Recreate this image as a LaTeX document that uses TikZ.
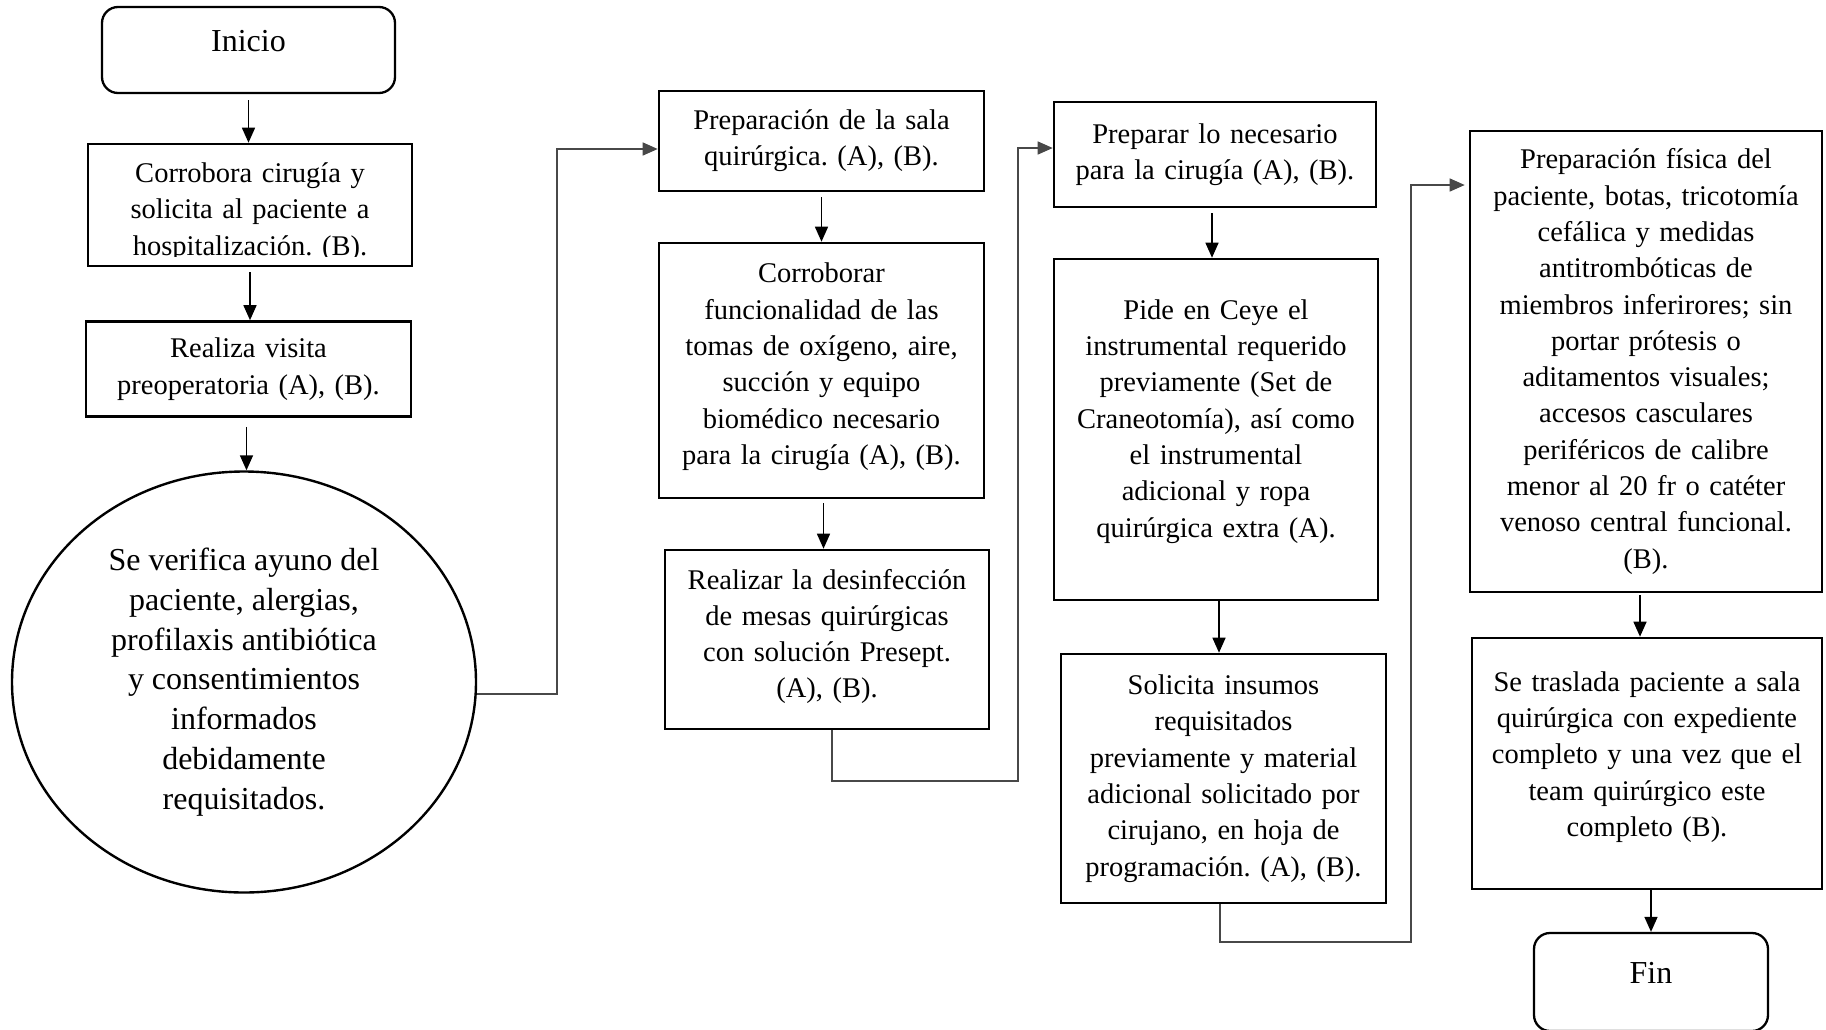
\documentclass[tikz,border=0pt]{standalone}
\usepackage{fontspec}
\setmainfont{Liberation Serif}
\usetikzlibrary{arrows.meta,shapes.geometric}

\definecolor{conngray}{RGB}{72,72,72}

\tikzset{
  boxtext/.style={font=\frenchspacing\fontsize{28.5}{36.3}\selectfont, align=center},
  stepbox/.style={draw=black, line width=2.6pt, rectangle, inner sep=0pt, boxtext},
  termbox/.style={draw=black, line width=2.3pt, rectangle, rounded corners=16pt, inner sep=0pt,
                  font=\fontsize{32}{38}\selectfont},
  bigoval/.style={draw=black, line width=2.4pt, ellipse, inner sep=0pt,
                  font=\fontsize{32}{39.8}\selectfont, align=center},
  arr/.style={draw=black, line width=1.5pt, -{Triangle[length=15pt,width=13pt]}},
  conn/.style={draw=conngray, line width=1.4pt},
  connarr/.style={conn, -{Triangle[length=15pt,width=13pt]}},
}

\begin{document}
\begin{tikzpicture}[x=1pt, y=-1pt]
\useasboundingbox (0,0) rectangle (1826,1029);

% ---- first column ----
\node[termbox, minimum width=293pt, minimum height=86pt, text depth=18pt] (inicio) at (248.5,50) {Inicio};

\node[stepbox, minimum width=324pt, minimum height=122pt] (corr) at (250,205) {};
\begin{scope}
  \clip (88,146) rectangle (412,256);
  \node[boxtext, text width=320pt, inner sep=0pt] (corrtext) at (250,212)
    {Corrobora cirugía y\\solicita al paciente a\\hospitalización. (B).};
\end{scope}

\node[stepbox, minimum width=325pt, minimum height=95pt, text width=315pt] (visita) at (248.5,369)
  {Realiza visita\\preoperatoria (A), (B).};

\node[bigoval, minimum width=464pt, minimum height=421pt] (ell) at (244,682)
  {Se verifica ayuno del\\paciente, alergias,\\profilaxis antibiótica\\y consentimientos\\informados\\debidamente\\requisitados.};

% ---- second column ----
\node[stepbox, minimum width=325pt, minimum height=100pt, text width=315pt] (psala) at (821.5,141)
  {Preparación de la sala\\quirúrgica. (A), (B).};
% (text depth below the first baseline is enlarged a little to lift the text)
\node[stepbox, minimum width=325pt, minimum height=255pt, text width=315pt, text depth=195pt] (func) at (821.5,370.5)
  {Corroborar\\funcionalidad de las\\tomas de oxígeno, aire,\\succión y equipo\\biomédico necesario\\para la cirugía (A), (B).};
\node[stepbox, minimum width=324pt, minimum height=179pt, text width=314pt, text depth=121pt] (desinf) at (827,639.5)
  {Realizar la desinfección\\de mesas quirúrgicas\\con solución Presept.\\(A), (B).};

% ---- third column ----
\node[stepbox, minimum width=322pt, minimum height=105pt, text width=312pt] (pnec) at (1215,154.5)
  {Preparar lo necesario\\para la cirugía (A), (B).};
\node[stepbox, minimum width=324pt, minimum height=341pt, text width=314pt, text depth=240pt] (ceye) at (1216,429.5)
  {Pide en Ceye el\\instrumental requerido\\previamente (Set de\\Craneotomía), así como\\el instrumental\\adicional y ropa\\quirúrgica extra (A).};
\node[stepbox, minimum width=325pt, minimum height=249pt, text width=315pt] (insumos) at (1223.5,778.5)
  {Solicita insumos\\requisitados\\previamente y material\\adicional solicitado por\\cirujano, en hoja de\\programación. (A), (B).};

% ---- fourth column ----
\node[stepbox, minimum width=352pt, minimum height=461pt, text width=342pt] (fisica) at (1646,361.5)
  {Preparación física del\\paciente, botas, tricotomía\\cefálica y medidas\\antitrombóticas de\\miembros inferirores; sin\\portar prótesis o\\aditamentos visuales;\\accesos casculares\\periféricos de calibre\\menor al 20 fr o catéter\\venoso central funcional.\\(B).};
\node[stepbox, minimum width=350pt, minimum height=251pt, text width=340pt, text depth=164pt] (traslada) at (1647,763.5)
  {Se traslada paciente a sala\\quirúrgica con expediente\\completo y una vez que el\\team quirúrgico este\\completo (B).};
\node[termbox, minimum width=234pt, minimum height=98pt, text depth=18pt] (fin) at (1651,982) {Fin};

% ---- straight arrows inside the columns ----
\draw[arr] ([yshift=-6pt]inicio.south) -- (inicio.south |- corr.north);
\draw[arr] ([yshift=-5pt]corr.south) -- (corr.south |- visita.north);
\draw[arr] ([yshift=-9pt,xshift=-2pt]visita.south) -- ([xshift=-2pt]visita.south |- ell.north);
\draw[arr] ([yshift=-5pt]psala.south) -- (psala.south |- func.north);
\draw[arr] ([yshift=-4pt,xshift=2pt]func.south) -- ([xshift=2pt]func.south |- desinf.north);
\draw[arr] ([yshift=-5pt,xshift=-3pt]pnec.south) -- ([xshift=-3pt]pnec.south |- ceye.north);
\draw[arr] ([xshift=3pt]ceye.south) -- ([xshift=3pt]ceye.south |- insumos.north);
\draw[arr] ([yshift=-2pt,xshift=-6pt]fisica.south) -- ([xshift=-6pt]fisica.south |- traslada.north);
\draw[arr] (traslada.south -| fin.north) -- (fin.north);

% ---- elbow connectors between the columns ----
\coordinate (k1) at (557,149);
\draw[connarr] ([yshift=-12pt]ell.east) -| (k1) -- (k1 -| psala.west);

\coordinate (k2a) at (832,781);
\coordinate (k2b) at (1018,148);
\draw[connarr] (desinf.south -| k2a) -- (k2a) -| (k2b) -- (k2b -| pnec.west);

\coordinate (k3a) at (1220,942);
\coordinate (k3b) at (1411,185);
\draw[connarr, shorten >=4pt] (insumos.south -| k3a) -- (k3a) -| (k3b) -- (k3b -| fisica.west);
\end{tikzpicture}
\end{document}
